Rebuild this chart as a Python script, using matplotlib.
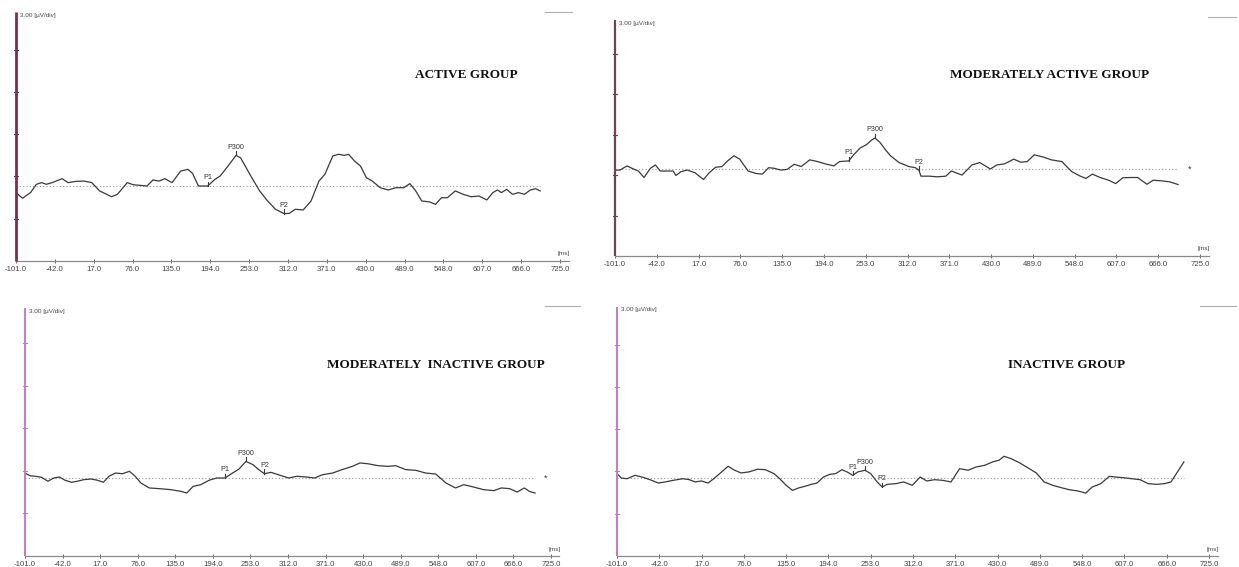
import numpy as np
import matplotlib
matplotlib.use("Agg")
import matplotlib.pyplot as plt

W, H, DPI = 1239, 567, 100

# x-axis tick values shared by all four recordings (ms)
tick_values = [-101.0, -42.0, 17.0, 76.0, 135.0, 194.0, 253.0, 312.0,
               371.0, 430.0, 489.0, 548.0, 607.0, 666.0, 725.0]

# ---- ACTIVE GROUP ----
active_ms = [-101, -91, -79, -70, -62, -55, -46, -31, -22, -10, 2, 14, 26, 44, 53, 68, 77, 98,
             107, 116, 125, 136, 149, 160, 167, 176, 185, 190, 200, 209, 221, 233, 240, 257,
             269, 281, 293, 306, 314, 323, 335, 347, 359, 368, 380, 389, 398, 404, 413, 422,
             431, 440, 452, 464, 476, 488, 497, 506, 515, 527, 536, 545, 554, 566, 578, 590,
             602, 614, 623, 630, 636, 644, 653, 662, 671, 680, 688, 695]
active_uv = [-0.47, -0.87, -0.47, 0.12, 0.24, 0.12, 0.24, 0.52, 0.24, 0.33, 0.35, 0.24, -0.35,
             -0.76, -0.59, 0.24, 0.09, 0.0, 0.43, 0.35, 0.52, 0.24, 1.06, 1.18, 0.9, 0.0, 0.0,
             0.0, 0.43, 0.71, 1.42, 2.17, 2.0, 0.59, -0.35, -1.06, -1.65, -1.96, -1.94, -1.65,
             -1.7, -1.06, 0.35, 0.83, 2.13, 2.25, 2.17, 2.25, 1.77, 1.42, 0.59, 0.35, -0.12,
             -0.28, -0.12, -0.12, 0.17, -0.35, -1.06, -1.13, -1.3, -0.83, -0.83, -0.35, -0.59,
             -0.76, -0.71, -0.99, -0.47, -0.28, -0.47, -0.24, -0.59, -0.47, -0.59, -0.28,
             -0.19, -0.35]
active_peaks = [("P1", 190), ("P300", 233), ("P2", 306)]

# ---- MODERATELY ACTIVE GROUP ----
mod_active_ms = [-101, -94, -84, -77, -68, -60, -51, -44, -37, -28, -19, -15, -8, 1, 12, 24, 32,
                 41, 50, 58, 67, 75, 87, 98, 107, 116, 124, 133, 142, 152, 162, 174, 185, 196,
                 208, 216, 229, 236, 245, 254, 261, 266, 273, 280, 288, 300, 314, 323, 328, 331,
                 343, 354, 366, 374, 389, 403, 414, 429, 438, 449, 462, 472, 481, 491, 504, 515,
                 530, 544, 556, 564, 573, 584, 596, 606, 616, 627, 637, 650, 659, 671, 682, 694]
mod_active_uv = [-0.08, -0.08, 0.23, 0.05, -0.15, -0.63, 0.05, 0.3, -0.15, -0.15, -0.15, -0.48,
                 -0.2, -0.08, -0.28, -0.78, -0.28, 0.13, 0.18, 0.6, 0.98, 0.73, -0.15, -0.33,
                 -0.38, 0.1, 0.05, -0.08, -0.03, 0.35, 0.18, 0.68, 0.55, 0.38, 0.23, 0.55, 0.6,
                 1.05, 1.55, 1.8, 2.13, 2.3, 1.98, 1.48, 0.98, 0.48, 0.18, 0.1, -0.08, -0.53,
                 -0.53, -0.58, -0.53, -0.15, -0.45, 0.3, 0.48, 0.0, 0.3, 0.38, 0.73, 0.5, 0.55,
                 1.05, 0.88, 0.68, 0.55, -0.2, -0.53, -0.7, -0.38, -0.63, -0.83, -1.08, -0.65,
                 -0.63, -0.63, -1.13, -0.83, -0.88, -0.95, -1.15]
mod_active_peaks = [("P1", 229), ("P300", 266), ("P2", 328)]

# ---- MODERATELY INACTIVE GROUP ----
mod_inactive_ms = [-101, -93, -84, -75, -65, -56, -47, -38, -28, -19, -9, 3, 13, 22, 31, 41, 52,
                   63, 72, 81, 94, 110, 128, 144, 153, 163, 175, 188, 200, 213, 225, 235, 246,
                   257, 266, 275, 285, 297, 313, 326, 341, 354, 366, 382, 397, 413, 425, 438,
                   453, 469, 481, 497, 513, 528, 544, 560, 575, 588, 603, 619, 635, 647, 660,
                   672, 683, 691, 700]
mod_inactive_uv = [0.35, 0.16, 0.12, 0.05, -0.23, 0.0, 0.07, -0.16, -0.3, -0.23, -0.12, -0.07,
                   -0.16, -0.3, 0.12, 0.35, 0.3, 0.47, 0.12, -0.35, -0.7, -0.75, -0.82, -0.94,
                   -1.06, -0.59, -0.47, -0.16, 0.0, 0.0, 0.35, 0.63, 1.17, 0.94, 0.59, 0.3, 0.4,
                   0.23, 0.0, 0.12, 0.07, 0.0, 0.23, 0.35, 0.59, 0.82, 1.06, 1.0, 0.87, 0.82,
                   0.87, 0.59, 0.54, 0.35, 0.28, -0.35, -0.7, -0.47, -0.63, -0.82, -0.89, -0.7,
                   -0.75, -0.99, -0.7, -0.94, -1.06]
mod_inactive_peaks = [("P1", 213), ("P300", 246), ("P2", 275)]

# ---- INACTIVE GROUP ----
inactive_ms = [-101, -95, -87, -76, -66, -55, -43, -34, -23, -9, 0, 8, 17, 26, 34, 45, 54, 63, 72,
               83, 95, 106, 118, 126, 135, 144, 152, 161, 170, 178, 187, 196, 204, 213, 220, 228,
               235, 245, 253, 262, 269, 276, 288, 299, 311, 322, 331, 342, 354, 365, 377, 389,
               400, 412, 423, 432, 439, 449, 461, 472, 484, 495, 507, 519, 530, 542, 553, 562,
               574, 586, 594, 606, 617, 629, 640, 652, 663, 672, 681, 690]
inactive_uv = [0.31, 0.0, -0.05, 0.19, 0.07, -0.12, -0.36, -0.28, -0.17, -0.05, -0.12, -0.28,
               -0.21, -0.36, -0.05, 0.43, 0.83, 0.55, 0.36, 0.43, 0.62, 0.59, 0.31, -0.05, -0.52,
               -0.88, -0.71, -0.59, -0.45, -0.36, 0.07, 0.26, 0.31, 0.59, 0.43, 0.19, 0.43, 0.55,
               0.31, -0.28, -0.64, -0.45, -0.4, -0.28, -0.52, 0.07, -0.21, -0.12, -0.17, -0.28,
               0.66, 0.55, 0.78, 0.9, 1.14, 1.26, 1.54, 1.37, 1.07, 0.73, 0.36, -0.28, -0.52,
               -0.69, -0.83, -0.92, -1.07, -0.64, -0.4, 0.12, 0.07, 0.02, -0.05, -0.12, -0.4,
               -0.45, -0.4, -0.28, 0.43, 1.14]
inactive_peaks = [("P1", 228), ("P300", 245), ("P2", 269)]

SANS = ["Liberation Sans", "DejaVu Sans"]
SERIF = ["Liberation Serif", "DejaVu Serif"]

fig = plt.figure(figsize=(W / DPI, H / DPI), dpi=DPI)
fig.patch.set_facecolor("white")


def fx(px):
    return px / W


def fy(py):
    return 1 - py / H


def draw_panel(left, right, top, bottom, base, px_per_uv, ms, uv, peaks, title, title_x,
               title_y, axis_color, axis_lw, star=False):
    ymin = -(bottom - base) / px_per_uv
    ymax = (base - top) / px_per_uv
    ax = fig.add_axes([fx(left), fy(bottom), fx(right - left), (bottom - top) / H])
    ax.set_xlim(-101, 725)
    ax.set_ylim(ymin, ymax)
    for s in ax.spines.values():
        s.set_visible(False)
    ax.patch.set_alpha(0)

    # vertical amplitude axis with a tick every division (3 uV)
    ax.plot([-101, -101], [ymin, ymax], color=axis_color, lw=axis_lw, clip_on=False,
            solid_capstyle="butt", zorder=3)
    for v in np.arange(ymin + 3, ymax, 3):
        ax.plot([-101 - 3, -101 + 3], [v, v], color=axis_color, lw=0.8, clip_on=False)

    # time axis
    ax.plot([-101, 738], [ymin, ymin], color="#8a8a8a", lw=0.9, clip_on=False)
    ax.set_xticks(tick_values)
    ax.set_xticklabels([f"{t:.1f}" for t in tick_values], fontsize=5.6, color="#444444",
                       family=SANS)
    ax.tick_params(axis="x", length=2.5, width=0.7, color="#666666", pad=2,
                   direction="inout")
    ax.set_yticks([])

    # zero baseline
    ax.plot([-101, ms[-1]], [0, 0], color="#9a9a9a", lw=0.8, ls=(0, (1, 2)))

    # averaged waveform
    ax.plot(ms, uv, color="#3a3a3a", lw=0.9)

    # component markers
    for name, t in peaks:
        y = float(np.interp(t, ms, uv))
        ax.plot([t, t], [y, y + 0.3], color="#3a3a3a", lw=0.8)
        ax.text(t, y + 0.33, name, fontsize=5.2, ha="center", va="bottom", color="#333333",
                family=SANS)

    if star:
        ax.text(ms[-1] + 17, 0, "*", fontsize=6.5, ha="center", va="center",
                color="#333333", family=SANS)

    fig.text(fx(left + 4), fy(top + 3), "3.00 [\u00b5V/div]", fontsize=4.6, color="#444444",
             family=SANS, va="center", ha="left")
    fig.text(fx(right + 4), fy(bottom - 7), "[ms]", fontsize=4.6, color="#444444",
             family=SANS, va="center", ha="center")
    fig.text(fx(title_x), fy(title_y), title, fontsize=9.5, weight="bold", family=SERIF,
             ha="left", va="center", color="#111111")
    return ax


draw_panel(16, 560, 12, 261, 186, 14.1, active_ms, active_uv, active_peaks,
           "ACTIVE GROUP", 415, 75, "#7a3048", 2.0)
draw_panel(615, 1200, 20, 256, 169, 13.5, mod_active_ms, mod_active_uv, mod_active_peaks,
           "MODERATELY ACTIVE GROUP", 950, 75, "#6e4450", 1.6, star=True)
draw_panel(25, 551, 308, 556, 478, 14.2, mod_inactive_ms, mod_inactive_uv, mod_inactive_peaks,
           "MODERATELY  INACTIVE GROUP", 327, 365, "#c27cc8", 1.4, star=True)
draw_panel(617, 1209, 307, 556, 478, 14.1, inactive_ms, inactive_uv, inactive_peaks,
           "INACTIVE GROUP", 1008, 365, "#c27cc8", 1.4)

# small scale indicators in the upper right corners
for x0, x1, y in [(545, 572, 12), (1208, 1236, 17), (545, 580, 306), (1200, 1236, 306)]:
    fig.add_artist(plt.Line2D([fx(x0), fx(x1)], [fy(y), fy(y)], color="#b0b0b0", lw=0.8))

fig.savefig("out.png", dpi=DPI, facecolor="white")
